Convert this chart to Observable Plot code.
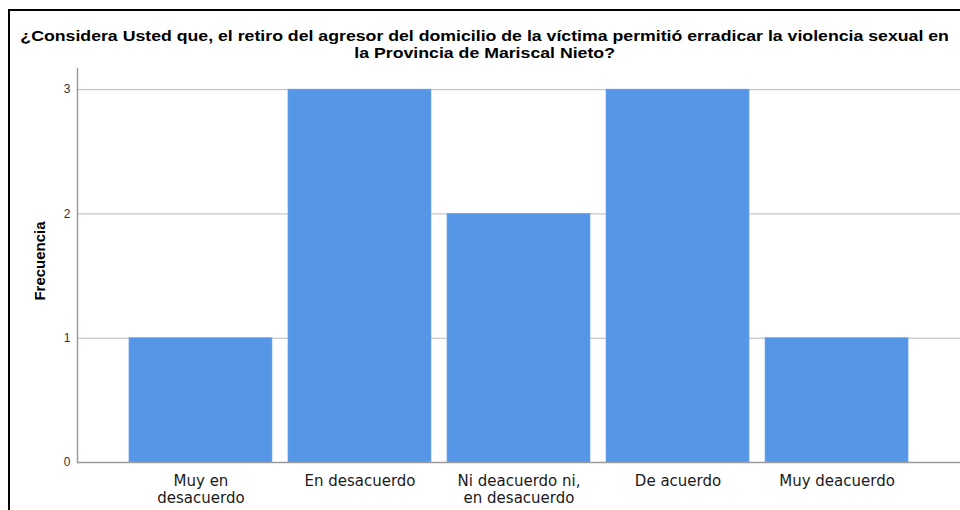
<!DOCTYPE html>
<html>
<head>
<meta charset="utf-8">
<script src="https://cdn.jsdelivr.net/npm/d3@7"></script>
<script src="https://cdn.jsdelivr.net/npm/@observablehq/plot@0.6"></script>
<style>
  html, body { margin: 0; padding: 0; background: #fff; }
  #wrap { position: relative; width: 960px; height: 510px; overflow: hidden; font-family: "Liberation Sans", Arial, sans-serif; }
  #frame { position: absolute; left: 8px; top: 9px; width: 1000px; height: 600px; border-left: 2px solid #000; border-top: 2px solid #000; box-sizing: border-box; pointer-events: none; }
  #title { position: absolute; left: 10px; width: 950px; top: 27px; text-align: center; font-weight: bold; font-size: 15px; line-height: 17px; color: #000; transform: scaleX(1.18); transform-origin: 477px 0; white-space: nowrap; }
  #ylabel { position: absolute; left: 39px; top: 261px; transform: translate(-50%, -50%) rotate(-90deg); font-weight: bold; font-size: 15px; line-height: 15px; color: #000; white-space: nowrap; }
  #chart { position: absolute; left: 0; top: 0; }
</style>
</head>
<body>
<div id="wrap">
  <div id="chart"></div>
  <div id="title">¿Considera Usted que, el retiro del agresor del domicilio de la víctima permitió erradicar la violencia sexual en<br>la Provincia de Mariscal Nieto?</div>
  <div id="ylabel"></div>
  <div id="frame"></div>
</div>
<script>
const categories = ["Muy en desacuerdo", "En desacuerdo", "Ni deacuerdo ni, en desacuerdo", "De acuerdo", "Muy deacuerdo"];
const frecuencias = [1, 3, 2, 3, 1];
const tickLabels = ["Muy en\ndesacuerdo", "En desacuerdo", "Ni deacuerdo ni,\nen desacuerdo", "De acuerdo", "Muy deacuerdo"];
const yTicks = [0, 1, 2, 3];
const yLabel = "Frecuencia";

document.getElementById("ylabel").textContent = yLabel;

const data = categories.map((c, i) => ({cat: c, val: frecuencias[i]}));
const labelOf = new Map(categories.map((c, i) => [c, tickLabels[i]]));

const chart = Plot.plot({
  width: 960,
  height: 510,
  marginTop: 68,
  marginBottom: 48,
  marginLeft: 77,
  marginRight: 0,
  style: {fontFamily: "'Liberation Sans', Arial, sans-serif", background: "transparent"},
  x: {domain: categories, paddingInner: 0.1006, paddingOuter: 0.3267, align: 0.5, round: false, axis: null},
  y: {domain: [0, 3.17], axis: null},
  marks: [
    Plot.gridY({ticks: [1, 2, 3], stroke: "#b9b9b9", strokeOpacity: 1, strokeWidth: 1}),
    Plot.barY(data, {x: "cat", y: "val", fill: "#5596e6", stroke: "#6ba5ec", strokeWidth: 0.6}),
    Plot.ruleY([0], {stroke: "#9a9a9a", strokeWidth: 1.5}),
    Plot.frame({anchor: "left", stroke: "#9a9a9a", strokeWidth: 1.5}),
    Plot.axisY({ticks: yTicks, tickFormat: d3.format("d"), tickSize: 0, tickPadding: 7, label: null, fontSize: 12, fill: "#333"}),
    Plot.axisX({tickSize: 0, tickPadding: 12, label: null, fontSize: 15, fontFamily: "'DejaVu Sans', sans-serif", fill: "#1a1a1a", lineHeight: 1.1, tickFormat: d => labelOf.get(d)})
  ]
});
document.getElementById("chart").appendChild(chart);
</script>
</body>
</html>
